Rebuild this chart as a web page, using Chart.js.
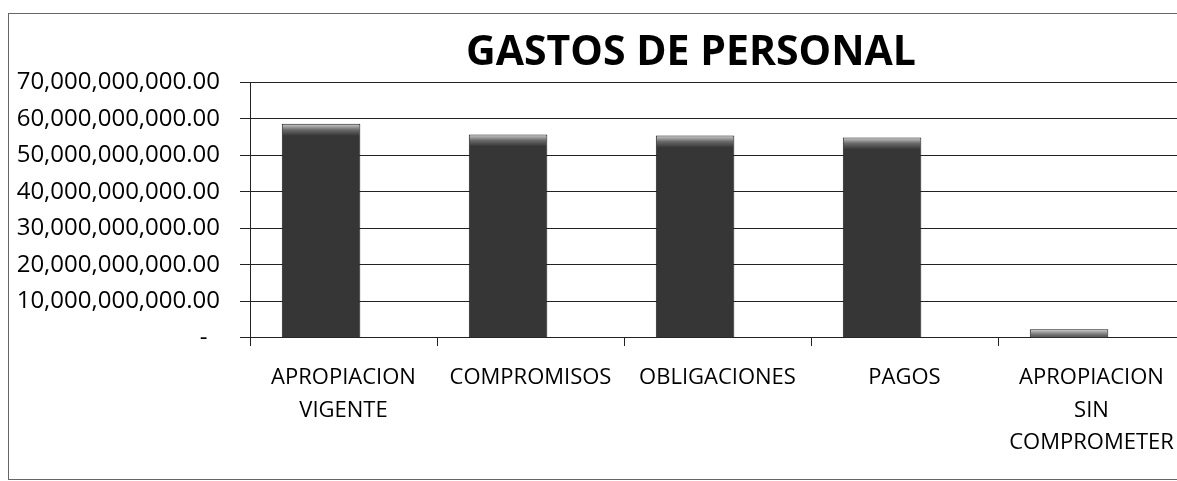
<!DOCTYPE html>
<html>
<head>
<meta charset="utf-8">
<script src="https://cdn.jsdelivr.net/npm/chart.js@4"></script>
<style>
    html, body { margin: 0; padding: 0; background: #fff; overflow: hidden; }
    #wrap { position: relative; width: 1177px; height: 481px; overflow: hidden; }
    #frame { position: absolute; left: 8px; top: 13px; width: 1500px; height: 465px; border: 1px solid #666; pointer-events: none; }
    canvas { position: absolute; left: 0; top: 0; }
</style>
</head>
<body>
<div id="wrap">
    <canvas id="gastos" width="1374" height="481"></canvas>
    <div id="frame"></div>
</div>
<script>
const categories = [
    ['APROPIACION', 'VIGENTE'],
    'COMPROMISOS',
    'OBLIGACIONES',
    'PAGOS',
    ['APROPIACION', 'SIN', 'COMPROMETER']
];
const gastosValues = [58600000000, 55700000000, 55400000000, 54900000000, 2400000000];
const yTicks = [0, 10000000000, 20000000000, 30000000000, 40000000000, 50000000000, 60000000000, 70000000000];

const fmt = new Intl.NumberFormat('en-US', { minimumFractionDigits: 2, maximumFractionDigits: 2 });

// excel 3d bars sit a bit left of the category centre
const shiftBars = {
    id: 'shiftBars',
    beforeDatasetsDraw(chart) {
        const x = chart.scales.x;
        const step = x.getPixelForValue(1) - x.getPixelForValue(0);
        chart.ctx.save();
        chart.ctx.translate(-step * 0.12, 0);
    },
    afterDatasetsDraw(chart) {
        chart.ctx.restore();
    }
};

const barFill = (context) => {
    const chart = context.chart;
    const yScale = chart.scales.y;
    if (!yScale || context.raw == null) {
        return '#3a3a3a';
    }
    const top = yScale.getPixelForValue(context.raw);
    if (!isFinite(top)) {
        return '#3a3a3a';
    }
    const g = chart.ctx.createLinearGradient(0, top, 0, top + 12);
    g.addColorStop(0, '#d0d0d0');
    g.addColorStop(0.5, '#6a6a6a');
    g.addColorStop(1, '#363636');
    return g;
};

Chart.defaults.color = '#000';
Chart.defaults.font.family = '"Open Sans", sans-serif';

new Chart(document.getElementById('gastos').getContext('2d'), {
    type: 'bar',
    data: {
        labels: categories,
        datasets: [{
            label: 'Gastos de personal',
            data: gastosValues,
            backgroundColor: barFill,
            borderColor: '#1a1a1a',
            borderWidth: 1,
            categoryPercentage: 0.84,
            barPercentage: 0.5
        }]
    },
    options: {
        responsive: false,
        animation: false,
        layout: {
            padding: { left: 8, right: 0, top: 0, bottom: 6 }
        },
        plugins: {
            legend: { display: false },
            tooltip: { enabled: false },
            title: {
                display: true,
                text: 'GASTOS DE PERSONAL',
                color: '#000',
                font: { size: 41, weight: 'bold' },
                padding: { top: 29, bottom: 4 }
            }
        },
        scales: {
            x: {
                offset: true,
                grid: {
                    offset: true,
                    drawOnChartArea: false,
                    tickLength: 8,
                    color: '#222'
                },
                border: { display: false },
                ticks: {
                    font: { size: 22, lineHeight: 1.47 },
                    padding: 16,
                    maxRotation: 0,
                    autoSkip: false
                }
            },
            y: {
                min: 0,
                max: 70000000000,
                afterBuildTicks: (scale) => {
                    scale.ticks = yTicks.map(v => ({ value: v }));
                },
                afterFit: (scale) => {
                    scale.width = 242;
                },
                grid: {
                    color: '#222',
                    tickLength: 10
                },
                border: { display: true, color: '#222' },
                ticks: {
                    font: { size: 24 },
                    padding: 20,
                    callback: (v) => v === 0 ? '-  ' : fmt.format(v)
                }
            },
            // empty space on the right, the picture is cut off there
            yRight: {
                position: 'right',
                display: true,
                min: 0,
                max: 70000000000,
                afterFit: (scale) => {
                    scale.width = 189;
                },
                grid: { drawOnChartArea: false, display: false },
                border: { display: false },
                ticks: { display: false }
            }
        }
    },
    plugins: [shiftBars]
});
</script>
</body>
</html>
